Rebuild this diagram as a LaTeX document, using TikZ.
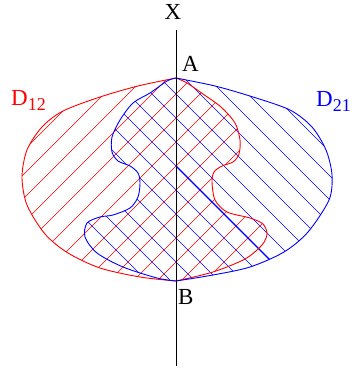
\documentclass[tikz,border=0pt]{standalone}
\usepackage{fontspec}
\setmainfont{Liberation Serif}
\begin{document}
\begin{tikzpicture}[x=1pt,y=-1pt,
  curve/.style={line width=0.9pt},
  hatch/.style={line width=0.65pt},
  lbl/.style={font=\fontsize{23}{23}\selectfont, inner sep=0pt}]
\useasboundingbox (0,0) rectangle (360,371);
\def\redouter{(176,78) (138,86) (100,97) (63,111) (42,127) (27,150) (22,177) (27,205) (45,234) (68,253) (100,268) (140,277) (176,281)}
\def\redwavyrev{(176,281) (213,272) (245,259) (262,245) (267,234) (263,224) (250,218) (227,212) (215,200) (212,182) (214,172) (222,166) (233,162) (239,154) (240,140) (235,123) (221,107) (203,94) (187,83) (176,78)}
\def\bluewavy{(176,78) (167,81) (150,93) (133,103) (120,120) (112,137) (112,152) (118,161) (130,166) (138,173) (140,183) (138,197) (130,208) (113,215) (100,217) (87,223) (85,237) (97,253) (123,267) (157,278) (176,281)}
\def\blueouterrev{(176,281) (213,275) (250,267) (284,252) (308,232) (329,200) (332,175) (326,150) (312,127) (290,110) (253,97) (215,86) (176,78)}
% red hatching
\begin{scope}
  \clip plot[smooth] coordinates {\redouter} -- plot[smooth] coordinates {\redwavyrev} -- cycle;
  \foreach \k in {-5,...,10} {
    \pgfmathsetmacro{\c}{270+24*\k}
    \draw[red,hatch] (\c-450,450) -- (\c,0);
  }
\end{scope}
% blue hatching
\begin{scope}
  \clip plot[smooth] coordinates {\bluewavy} -- plot[smooth] coordinates {\blueouterrev} -- cycle;
  \foreach \k in {-5,...,10} {
    \pgfmathsetmacro{\d}{-82+24*\k}
    \draw[blue,hatch] (0,\d) -- (450,450+\d);
  }
  \draw[blue,line width=1.1pt] (176,166) -- (270,260);
\end{scope}
% boundaries
\draw[red,curve] plot[smooth] coordinates {\redouter};
\draw[red,curve] plot[smooth] coordinates {\redwavyrev};
\draw[blue,curve] plot[smooth] coordinates {\bluewavy};
\draw[blue,curve] plot[smooth] coordinates {\blueouterrev};
% axis
\coordinate (top) at (176,30);
\coordinate (bot) at (176,366);
\draw[line width=0.9pt] (top) -- (bot);
% labels
\node[lbl] (X) at (173,12) {X};
\node[lbl,anchor=base west] (A) at (182,72) {A};
\node[lbl,anchor=base west] (B) at (178,304) {B};
\node[lbl,red,anchor=base west] (D12) at (11,106) {D\raisebox{-5pt}{\fontsize{18}{18}\selectfont 12}};
\node[lbl,blue,anchor=base west] (D21) at (316,107) {D\raisebox{-5pt}{\fontsize{18}{18}\selectfont 21}};
\end{tikzpicture}
\end{document}
